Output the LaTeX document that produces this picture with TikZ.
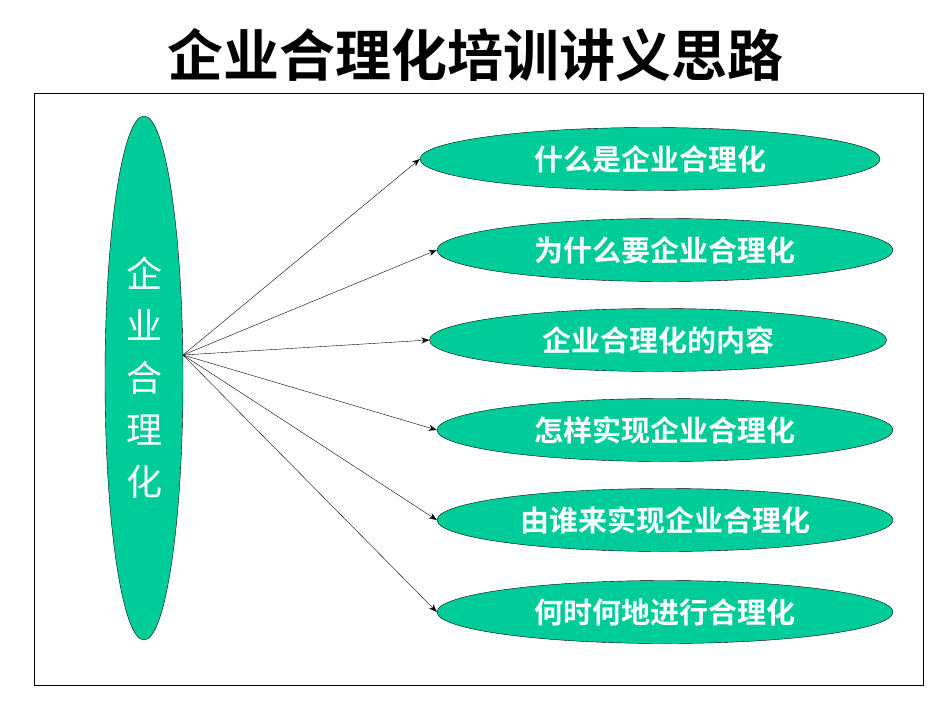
\documentclass[tikz,border=0pt]{standalone}
\usepackage{fontspec}
\setmainfont{Noto Sans CJK SC}
\newfontfamily\cjkb{Noto Sans CJK SC Bold}
\usetikzlibrary{shapes.geometric,arrows.meta}
\definecolor{gr}{HTML}{00CC99}
\tikzset{x=1pt,y=-1pt,
 oval/.style={ellipse,draw=black,fill=gr,minimum width=456pt,minimum height=63pt,inner sep=0pt,text=white,font=\cjkb\fontsize{29}{29}\selectfont},
 arr/.style={-{Stealth[length=8pt,width=6pt]},thin}}
\begin{document}
\begin{tikzpicture}
\useasboundingbox (0,0) rectangle (950,713);
\node[font=\cjkb\fontsize{56}{56}\selectfont] (t) at (475,55) {企业合理化培训讲义思路};
\node[draw=black,minimum width=889pt,minimum height=592pt,inner sep=0pt] (f) at (478.5,389) {};
\node[ellipse,draw=black,fill=gr,minimum width=78pt,minimum height=524pt,inner sep=0pt,text=white,font=\fontsize{36}{52}\selectfont,align=center] (L) at (144,378) {企\\业\\合\\理\\化};
\node[oval,minimum width=460pt] (a) at (650,159) {什么是企业合理化};
\node[oval] (b) at (665,250) {为什么要企业合理化};
\node[oval,minimum width=457pt] (c) at (658,340) {企业合理化的内容};
\node[oval] (d) at (665,430) {怎样实现企业合理化};
\node[oval] (e) at (665,520) {由谁来实现企业合理化};
\node[oval] (g) at (665,612) {何时何地进行合理化};
\coordinate (o) at (183,355);
\foreach \n in {a,b,c,d,e,g} \draw[arr] (o) -- (\n.west);
\end{tikzpicture}
\end{document}
